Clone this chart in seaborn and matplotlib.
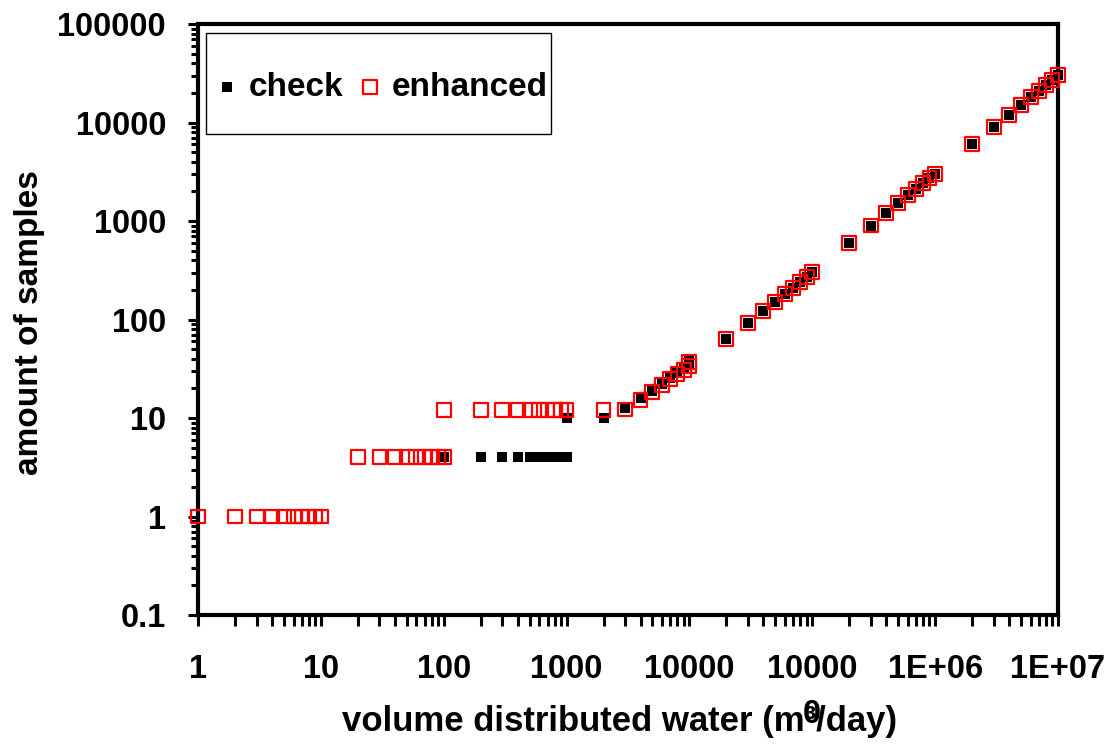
import numpy as np
import pandas as pd
import matplotlib
matplotlib.use("Agg")
import matplotlib.pyplot as plt
from matplotlib.patches import Rectangle
from matplotlib.ticker import FixedLocator, LogLocator, NullFormatter
import seaborn as sns

# data
check_x = [100, 200, 300, 400, 500, 600, 700, 800, 900, 1000,
           1000, 2000,
           3000, 4000, 5000, 6000, 7000, 8000, 9000, 10000, 10000,
           20000, 30000, 40000, 50000, 60000, 70000, 80000, 90000, 100000,
           200000, 300000, 400000, 500000, 600000, 700000, 800000, 900000, 1000000,
           2000000, 3000000, 4000000, 5000000, 6000000, 7000000, 8000000, 9000000, 10000000]
check_y = [4, 4, 4, 4, 4, 4, 4, 4, 4, 4,
           10, 10,
           12.7, 15.8, 19, 22.3, 25.5, 28.6, 31.6, 34.8, 37.5,
           63, 93, 121, 151, 181, 211, 241, 271, 302,
           603, 900, 1200, 1510, 1830, 2100, 2410, 2710, 3030,
           6000, 9000, 12000, 15000, 18200, 21000, 24000, 27000, 30300]

enh_x = [1, 2, 3, 4, 5, 6, 7, 8, 9, 10,
         20, 30, 40, 50, 60, 70, 80, 90, 100,
         100, 200, 300, 400, 500, 600, 700, 800, 900, 1000, 2000,
         3000, 4000, 5000, 6000, 7000, 8000, 9000, 10000, 10000,
         20000, 30000, 40000, 50000, 60000, 70000, 80000, 90000, 100000,
         200000, 300000, 400000, 500000, 600000, 700000, 800000, 900000, 1000000,
         2000000, 3000000, 4000000, 5000000, 6000000, 7000000, 8000000, 9000000, 10000000]
enh_y = [1, 1, 1, 1, 1, 1, 1, 1, 1, 1,
         4, 4, 4, 4, 4, 4, 4, 4, 4,
         12, 12, 12, 12, 12, 12, 12, 12, 12, 12, 12,
         12.2, 15.3, 18.5, 21.8, 25, 28, 31, 34, 37,
         63, 93, 121, 151, 181, 211, 241, 271, 302,
         603, 900, 1200, 1510, 1830, 2100, 2410, 2710, 3030,
         6000, 9000, 12000, 15000, 18200, 21000, 24000, 27000, 30300]

x_ticks = [1, 10, 100, 1000, 10000, 100000, 1000000, 10000000]
x_tick_labels = ["1", "10", "100", "1000", "10000", "10000\n0", "1E+06", "1E+07"]
y_ticks = [0.1, 1, 10, 100, 1000, 10000, 100000]
y_tick_labels = ["0.1", "1", "10", "100", "1000", "10000", "100000"]

df_check = pd.DataFrame({"x": check_x, "y": check_y})
df_enh = pd.DataFrame({"x": enh_x, "y": enh_y})

sns.set_style("ticks")
plt.rcParams["font.family"] = ["Liberation Sans", "DejaVu Sans"]
plt.rcParams["font.weight"] = "bold"
plt.rcParams["text.color"] = "black"
plt.rcParams["axes.labelcolor"] = "black"
plt.rcParams["xtick.color"] = "black"
plt.rcParams["ytick.color"] = "black"

fig = plt.figure(figsize=(11.16, 7.51), dpi=100)
ax = fig.add_axes([0.1774, 0.1811, 0.7706, 0.7869])

sns.scatterplot(data=df_check, x="x", y="y", ax=ax, marker="s", s=60,
                color="black", edgecolor="black", linewidth=0,
                label="check", clip_on=False, zorder=3)
sns.scatterplot(data=df_enh, x="x", y="y", ax=ax, marker="s", s=100,
                facecolors="none", edgecolor="#ff0000", linewidth=1.6,
                label="enhanced", clip_on=False, zorder=4)

ax.set_xscale("log")
ax.set_yscale("log")
ax.set_xlim(1, 1e7)
ax.set_ylim(0.1, 1e5)

ax.xaxis.set_major_locator(FixedLocator(x_ticks))
ax.set_xticklabels(x_tick_labels, fontsize=23.5, fontweight="bold", color="black")
ax.xaxis.set_minor_locator(LogLocator(base=10, subs=np.arange(2, 10), numticks=20))
ax.xaxis.set_minor_formatter(NullFormatter())
ax.yaxis.set_major_locator(FixedLocator(y_ticks))
ax.set_yticklabels(y_tick_labels, fontsize=23.5, fontweight="bold", color="black")
ax.yaxis.set_minor_locator(LogLocator(base=10, subs=np.arange(2, 10), numticks=20))
ax.yaxis.set_minor_formatter(NullFormatter())
ax.get_xticklabels()[5].set_linespacing(1.6)

ax.tick_params(axis="x", which="both", direction="out", length=8, width=2.2, pad=20, color="black")
ax.tick_params(axis="y", which="major", direction="out", length=7, width=2.2, pad=16, color="black")
ax.tick_params(axis="y", which="minor", direction="out", length=5, width=2.2, color="black")

for sp in ax.spines.values():
    sp.set_linewidth(3)
    sp.set_color("black")

ax.set_xlabel("volume distributed water (m³/day)", fontsize=25, fontweight="bold", color="black")
ax.set_ylabel("amount of samples", fontsize=24, fontweight="bold", color="black")
ax.xaxis.set_label_coords(0.49, -0.152)
ax.yaxis.set_label_coords(-0.178, 0.494)

handles, labels = ax.get_legend_handles_labels()
ax.legend(handles, labels, ncol=2, loc="center left",
          bbox_to_anchor=(217 / 1116, 1 - 87 / 751), bbox_transform=fig.transFigure,
          frameon=False, prop={"weight": "bold", "size": 24},
          handlelength=0.6, handletextpad=0.35, columnspacing=0.5,
          borderpad=0, borderaxespad=0)

# legend frame as drawn in the reference
fig.patches.append(Rectangle((206 / 1116, 1 - 134 / 751), 345 / 1116, 101 / 751,
                             transform=fig.transFigure, fill=False,
                             edgecolor="black", linewidth=1, zorder=5))

fig.savefig("out.png", dpi=100)
